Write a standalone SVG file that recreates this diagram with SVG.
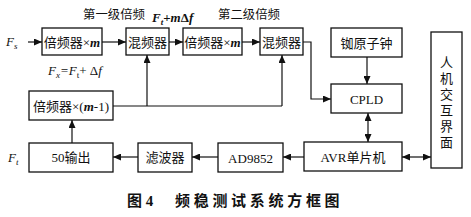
<svg xmlns="http://www.w3.org/2000/svg" width="471" height="217" viewBox="0 0 471 217">
<defs>
<marker id="ah" viewBox="0 0 8 7" refX="8" refY="3.5" markerWidth="8" markerHeight="7" markerUnits="userSpaceOnUse" orient="auto-start-reverse">
<path d="M0,0 L8,3.5 L0,7 z" fill="#111"/>
</marker>
</defs>
<style>
.box{fill:#fff;stroke:#111;stroke-width:1.3}
.lbl{font-family:"Liberation Serif","Noto Sans CJK SC",serif;font-size:13px;fill:#111;text-anchor:middle;dominant-baseline:central}
.it{font-family:"Liberation Serif",serif;font-style:italic;font-size:13px;fill:#111}
.ann{font-family:"Liberation Serif","Noto Sans CJK SC",serif;font-size:12.4px;fill:#111;text-anchor:middle}
.ln{fill:none;stroke:#111;stroke-width:1.2}
.cap{font-family:"Liberation Serif","Noto Sans CJK SC",serif;font-size:15px;font-weight:bold;fill:#111}
</style>
<rect width="471" height="217" fill="#fff"/>
<g id="connectors">
<line class="ln" x1="28" y1="42" x2="42" y2="42" marker-end="url(#ah)"/>
<line class="ln" x1="102" y1="42" x2="126" y2="42" marker-end="url(#ah)"/>
<line class="ln" x1="169" y1="42" x2="183" y2="42" marker-end="url(#ah)"/>
<line class="ln" x1="242" y1="42" x2="260" y2="42" marker-end="url(#ah)"/>
<polyline class="ln" points="303,42 311,42 311,99 331,99" marker-end="url(#ah)"/>
<line class="ln" x1="113" y1="106" x2="282" y2="106"/>
<line class="ln" x1="147" y1="106" x2="147" y2="55" marker-end="url(#ah)"/>
<line class="ln" x1="282" y1="106" x2="282" y2="55" marker-end="url(#ah)"/>
<line class="ln" x1="367" y1="57" x2="367" y2="84" marker-end="url(#ah)"/>
<line class="ln" x1="368" y1="113" x2="368" y2="142" marker-start="url(#ah)" marker-end="url(#ah)"/>
<line class="ln" x1="402" y1="157" x2="431" y2="157" marker-start="url(#ah)" marker-end="url(#ah)"/>
<line class="ln" x1="304" y1="157" x2="283" y2="157" marker-end="url(#ah)"/>
<line class="ln" x1="218" y1="157" x2="192" y2="157" marker-end="url(#ah)"/>
<line class="ln" x1="138" y1="157" x2="113" y2="157" marker-end="url(#ah)"/>
<line class="ln" x1="72" y1="143" x2="72" y2="120" marker-end="url(#ah)"/>
</g>
<g id="mult1"><rect class="box" x="42" y="28" width="60" height="27"/><text class="lbl" x="72" y="42">倍频器×<tspan font-style="italic" font-weight="bold">m</tspan></text></g>
<g id="mixer1"><rect class="box" x="126" y="28" width="43" height="27"/><text class="lbl" x="147.5" y="42">混频器</text></g>
<g id="mult2"><rect class="box" x="183" y="28" width="59" height="27"/><text class="lbl" x="212.5" y="42">倍频器×<tspan font-style="italic" font-weight="bold">m</tspan></text></g>
<g id="mixer2"><rect class="box" x="260" y="28" width="43" height="27"/><text class="lbl" x="281.5" y="42">混频器</text></g>
<g id="clock"><rect class="box" x="331" y="28" width="71" height="29"/><text class="lbl" x="366.5" y="43">铷原子钟</text></g>
<g id="cpld"><rect class="box" x="331" y="84" width="71" height="29"/><text class="lbl" x="366.5" y="99">CPLD</text></g>
<g id="hmi"><rect class="box" x="431" y="32" width="31" height="136"/>
<text class="lbl" x="446.5" y="62">人</text><text class="lbl" x="446.5" y="78">机</text><text class="lbl" x="446.5" y="94">交</text><text class="lbl" x="446.5" y="110">互</text><text class="lbl" x="446.5" y="126">界</text><text class="lbl" x="446.5" y="142">面</text></g>
<g id="multm1"><rect class="box" x="29" y="91" width="84" height="29"/><text class="lbl" x="71" y="106">倍频器×(<tspan font-style="italic" font-weight="bold">m</tspan>-1)</text></g>
<g id="out50"><rect class="box" x="29" y="143" width="84" height="29"/><text class="lbl" x="71" y="157.5">50输出</text></g>
<g id="filter"><rect class="box" x="138" y="143" width="54" height="29"/><text class="lbl" x="165" y="157.5">滤波器</text></g>
<g id="ad9852"><rect class="box" x="218" y="143" width="65" height="29"/><text class="lbl" x="250.5" y="158">AD9852</text></g>
<g id="avr"><rect class="box" x="304" y="142" width="98" height="29"/><text class="lbl" x="353" y="157">AVR单片机</text></g>
<text class="it" x="6" y="46">F<tspan font-size="9" dy="3">s</tspan></text>
<text class="it" x="48" y="75">F<tspan font-size="9" dy="3">x</tspan><tspan dy="-3">=F</tspan><tspan font-size="9" dy="3" font-style="normal">t</tspan><tspan dy="-3" font-style="normal">+ Δ</tspan><tspan>f</tspan></text>
<text class="ann" x="114" y="19">第一级倍频</text>
<text class="it" x="152" y="22" font-weight="bold">F<tspan font-size="9" dy="3">t</tspan><tspan dy="-3" font-style="normal">+</tspan><tspan>m</tspan><tspan font-style="normal">Δ</tspan><tspan>f</tspan></text>
<text class="ann" x="249" y="19">第二级倍频</text>
<text class="it" x="8" y="162">F<tspan font-size="9" dy="3">t</tspan></text>
<text class="cap" x="127" y="206">图 4</text>
<text class="cap" x="175" y="206" letter-spacing="3.7">频稳测试系统方框图</text>
</svg>
